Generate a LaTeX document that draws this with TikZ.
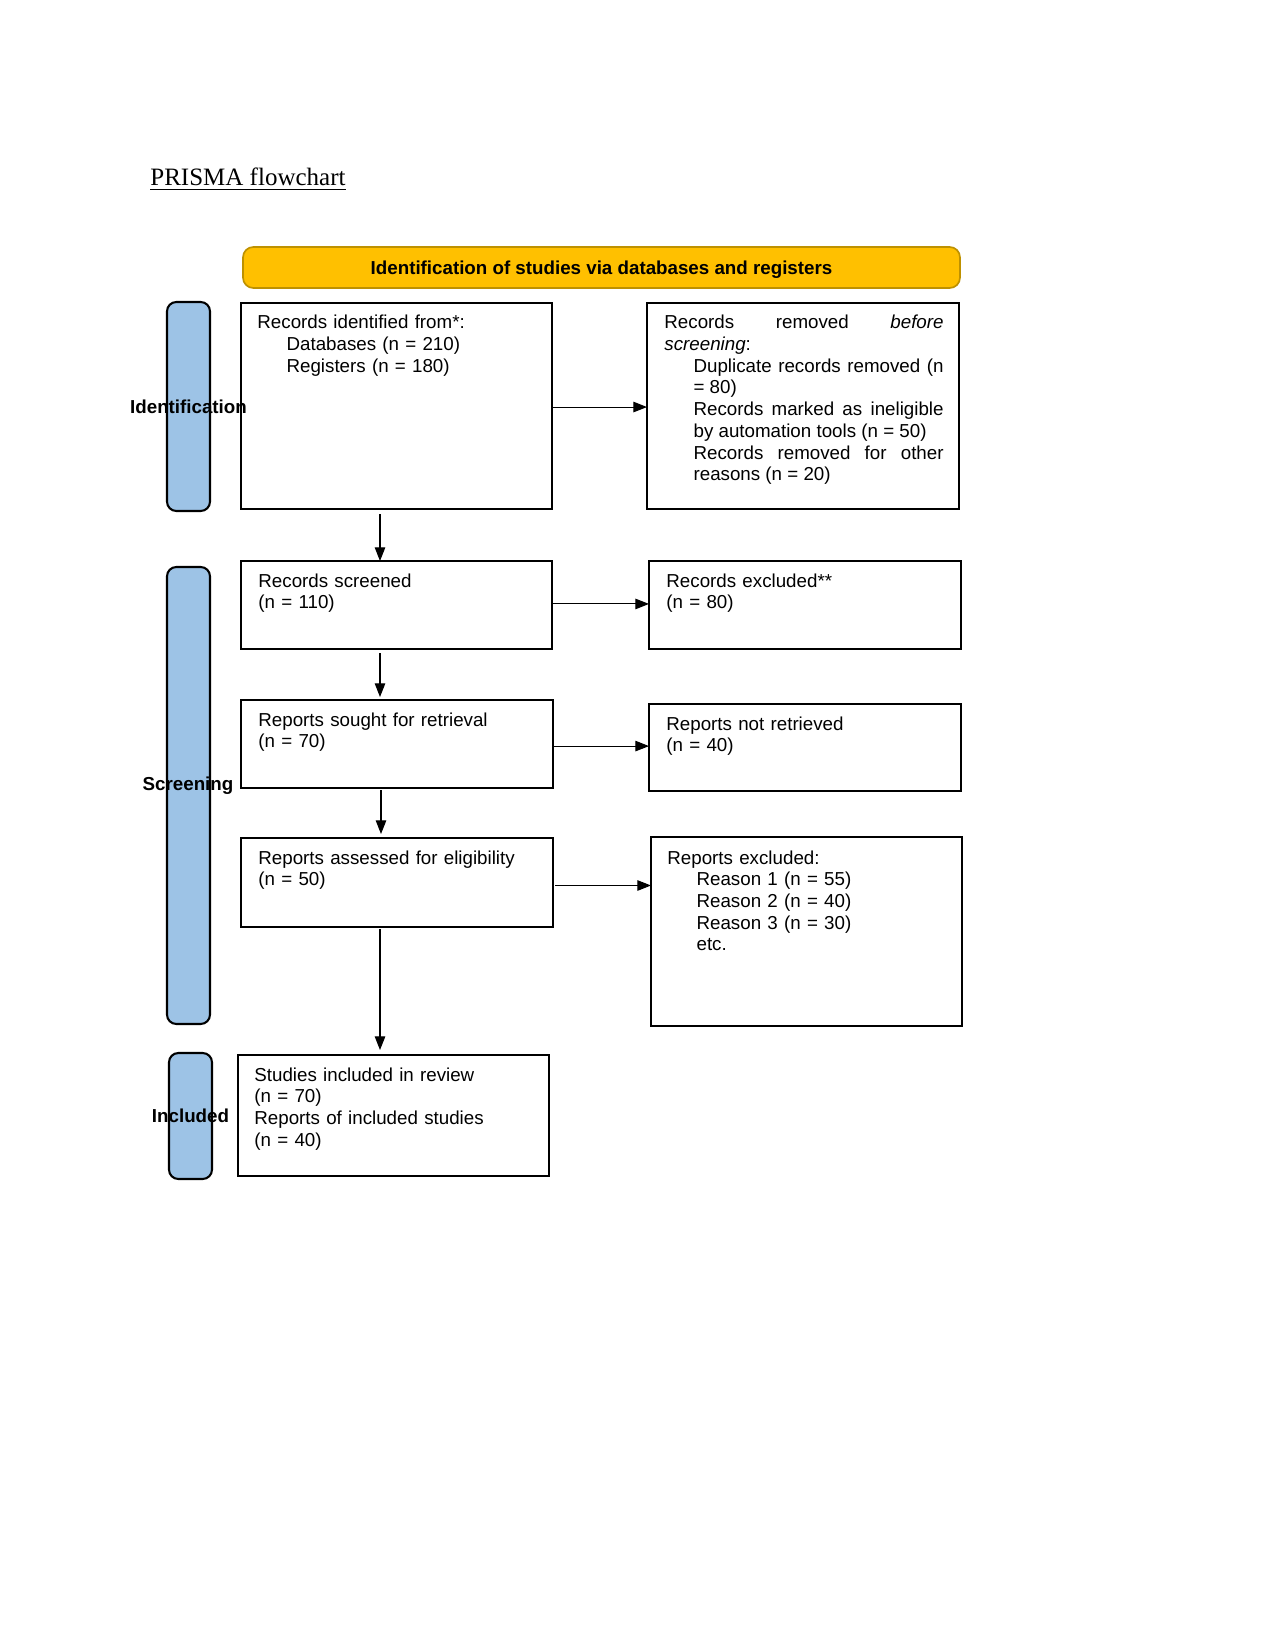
\documentclass[tikz,border=0pt]{standalone}
\usepackage{fontspec}
\setmainfont{Liberation Sans}
\newfontfamily\titlefont{Liberation Serif}
\usetikzlibrary{arrows.meta}
\definecolor{barblue}{RGB}{157,195,230}
\definecolor{banneryellow}{RGB}{255,192,0}
\definecolor{bannerborder}{RGB}{190,145,0}
\newcommand{\pxbox}[6]{\node[#6, anchor=north west, minimum width={(#4-#2)*0.48pt}, minimum height={(#5-#3)*0.48pt}] (#1) at (#2,#3) {};}
\begin{document}
\begin{tikzpicture}[x=0.48pt,y=-0.48pt,
  box/.style={draw, line width=0.8pt, inner sep=0pt, outer sep=0pt},
  bar/.style={draw, line width=1pt, fill=barblue, rounded corners=4.5pt, inner sep=0pt, outer sep=0pt},
  banner/.style={draw=bannerborder, line width=0.8pt, fill=banneryellow, rounded corners=5pt, inner sep=0pt, outer sep=0pt},
  txt/.style={inner sep=0pt, text width=#1, align=left, font=\fontsize{9}{10.4}\selectfont},
  txt/.default=140pt,
  lbl/.style={inner sep=0pt, font=\fontsize{9}{10.4}\selectfont\bfseries},
  arr/.style={line width=0.5pt, -{Triangle[length=6.5pt,width=5pt]}}
]
\useasboundingbox (0,0) rectangle (1275,1650);
\node[anchor=base west, inner sep=0pt, font=\titlefont\fontsize{12}{14}\selectfont] (title) at (150,186) {\underline{PRISMA flowchart}};

\pxbox{bann}{243}{247}{960}{288}{banner}
\node[lbl] (banntext) at ([yshift=-1pt]bann.center) {Identification of studies via databases and registers};

\pxbox{barid}{167}{302}{210}{511}{bar}
\pxbox{barscr}{167}{567}{210}{1024}{bar}
\pxbox{barinc}{169}{1053}{212}{1179}{bar}
\node[lbl] (lid) at (barid.center) {Identification};
\node[lbl] (lscr) at (188,786) {Screening};
\node[lbl] (linc) at (barinc.center) {Included};

\pxbox{b1}{241}{303}{552}{509}{box}
\pxbox{b2}{647}{303}{959}{509}{box}
\pxbox{b3}{241}{561}{552}{649}{box}
\pxbox{b4}{649}{561}{961}{649}{box}
\pxbox{b5}{241}{700}{553}{788}{box}
\pxbox{b6}{649}{704}{961}{791}{box}
\pxbox{b7}{241}{838}{553}{927}{box}
\pxbox{b8}{651}{837}{962}{1026}{box}
\pxbox{b9}{238}{1055}{549}{1176}{box}

\node[txt=280pt, anchor=base west] (t1) at ([shift={(16,26)}]b1.north west)
  {Records identified from*:\\\hspace*{14pt}Databases (n = 210)\\\hspace*{14pt}Registers (n = 180)};
\node[txt=134pt, align=justify, anchor=base west] (t2) at ([shift={(17,26)}]b2.north west)
  {\leftskip=0pt Records removed \textit{before}\linebreak \textit{screening}:\par
   \leftskip=14pt Duplicate records removed (n\linebreak = 80)\par
   \leftskip=14pt Records marked as ineligible\linebreak by automation tools (n = 50)\par
   \leftskip=14pt Records removed for other\linebreak reasons (n = 20)\par};
\node[txt=280pt, anchor=base west] (t3) at ([shift={(17,26)}]b3.north west) {Records screened\\(n = 110)};
\node[txt=280pt, anchor=base west] (t4) at ([shift={(17,26)}]b4.north west) {Records excluded**\\(n = 80)};
\node[txt=280pt, anchor=base west] (t5) at ([shift={(17,26)}]b5.north west) {Reports sought for retrieval\\(n = 70)};
\node[txt=280pt, anchor=base west] (t6) at ([shift={(17,26)}]b6.north west) {Reports not retrieved\\(n = 40)};
\node[txt=280pt, anchor=base west] (t7) at ([shift={(17,26)}]b7.north west) {Reports assessed for eligibility\\(n = 50)};
\node[txt=280pt, anchor=base west] (t8) at ([shift={(16,27)}]b8.north west)
  {Reports excluded:\\\hspace*{14pt}Reason 1 (n = 55)\\\hspace*{14pt}Reason 2 (n = 40)\\\hspace*{14pt}Reason 3 (n = 30)\\\hspace*{14pt}etc.};
\node[txt=280pt, anchor=base west] (t9) at ([shift={(16,26)}]b9.north west)
  {Studies included in review\\(n = 70)\\Reports of included studies\\(n = 40)};

\draw[arr] ([yshift=-0.5pt]b1.east) -- ([yshift=-0.5pt]b1.east -| b2.west);
\draw[arr] ([yshift=0.5pt]b3.east) -- ([yshift=0.5pt]b3.east -| b4.west);
\draw[arr] ([yshift=-1pt]b5.east) -- ([yshift=-1pt]b5.east -| b6.west);
\draw[arr] ([shift={(2,3)}]b7.east) -- ([shift={(0,3)}]b7.east -| b8.west);

\draw[arr] ([shift={(139,5)}]b1.south west) -- ([shift={(139,0)}]b3.north west);
\draw[arr] ([shift={(139,4)}]b3.south west) -- ([shift={(139,-3)}]b5.north west);
\draw[arr] ([shift={(140,2)}]b5.south west) -- ([shift={(140,-4)}]b7.north west);
\draw[arr] ([shift={(139,2)}]b7.south west) -- ([shift={(142,-5)}]b9.north west);
\end{tikzpicture}
\end{document}
